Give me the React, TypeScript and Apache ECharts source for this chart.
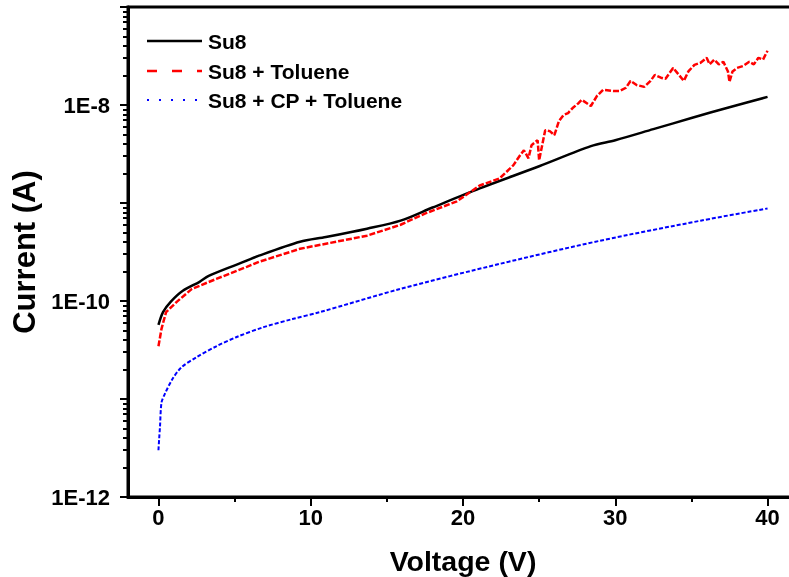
import { useEffect, useRef } from 'react';
import * as echarts from 'echarts';

const FONT = "'Liberation Sans', Arial, sans-serif";

// Su8 (black, solid)
const su8V = [0, 0.3, 0.8, 1.6, 2.7, 3.3, 5.1, 6.6, 9.3, 11, 13.7, 15.9, 18, 21.1, 25, 28.4, 30, 32.5, 35, 37.5, 40];
const su8I = [5.7e-11, 7.7e-11, 9.8e-11, 1.27e-10, 1.57e-10, 1.8e-10, 2.34e-10, 2.9e-10, 4.03e-10, 4.5e-10, 5.47e-10, 6.6e-10, 9.0e-10, 1.41e-9, 2.37e-9, 3.8e-9, 4.37e-9, 5.67e-9, 7.36e-9, 9.5e-9, 1.21e-8];

// Su8 + Toluene (red, dashed)
const tolV = [0, 0.2, 0.5, 1.2, 2.2, 3.8, 5.8, 6.6, 9.3, 13.7, 15.9, 17.5, 19.6, 21.1, 22.4, 23.3, 23.75, 24.0, 24.3, 24.5, 24.9, 25.0, 25.2, 25.4, 25.7, 26.0, 26.3, 26.6, 26.9, 27.2, 27.6, 27.8, 28.4, 28.8, 29.2, 29.9, 30.3, 30.7, 31.0, 31.4, 31.9, 32.3, 32.6, 33.0, 33.3, 33.8, 34.1, 34.5, 34.8, 35.2, 35.6, 36.0, 36.2, 36.5, 36.8, 37.1, 37.4, 37.5, 37.7, 38.0, 38.4, 38.8, 39.1, 39.4, 39.7, 40.0];
const tolI = [3.45e-11, 5.2e-11, 7.7e-11, 9.8e-11, 1.33e-10, 1.68e-10, 2.23e-10, 2.51e-10, 3.41e-10, 4.64e-10, 6.0e-10, 7.8e-10, 1.04e-9, 1.51e-9, 1.78e-9, 2.42e-9, 3.07e-9, 3.45e-9, 2.86e-9, 3.89e-9, 4.37e-9, 2.73e-9, 3.89e-9, 5.54e-9, 5.41e-9, 4.92e-9, 6.85e-9, 7.89e-9, 8.28e-9, 9.31e-9, 1.05e-8, 1.13e-8, 9.77e-9, 1.24e-8, 1.43e-8, 1.39e-8, 1.39e-8, 1.5e-8, 1.76e-8, 1.6e-8, 1.53e-8, 1.75e-8, 2.03e-8, 1.9e-8, 1.85e-8, 2.39e-8, 2.1e-8, 1.76e-8, 2.2e-8, 2.57e-8, 2.7e-8, 3.03e-8, 2.6e-8, 2.9e-8, 2.6e-8, 2.76e-8, 2.2e-8, 1.72e-8, 2.2e-8, 2.39e-8, 2.5e-8, 2.76e-8, 2.6e-8, 3.03e-8, 2.9e-8, 3.58e-8];

// Su8 + CP + Toluene (blue, dotted)
const cpV = [0, 0.05, 0.1, 0.2, 0.4, 0.9, 1.5, 2.5, 3.8, 5.1, 6.9, 8.8, 10.6, 15.9, 22.4, 29.0, 35.6, 40];
const cpI = [3.0e-12, 4.0e-12, 5.2e-12, 9.2e-12, 1.11e-11, 1.58e-11, 2.1e-11, 2.67e-11, 3.45e-11, 4.27e-11, 5.41e-11, 6.54e-11, 7.7e-11, 1.33e-10, 2.39e-10, 4.12e-10, 6.6e-10, 8.8e-10];

const seriesNames = ['Su8', 'Su8 + Toluene', 'Su8 + CP + Toluene'];
const xMajorTicks = [0, 10, 20, 30, 40];
const xMinorTicks = [5, 15, 25, 35];
const yLabelExponents = [-12, -10, -8];

const zip = (xs: number[], ys: number[]) => xs.map((x, i) => [x, ys[i]]);

const yMinorTicks: number[] = [];
for (let e = -12; e <= -8; e++) {
  for (let m = 2; m <= 9; m++) yMinorTicks.push(m * Math.pow(10, e));
}

export default function App() {
  const ref = useRef<HTMLDivElement>(null);
  useEffect(() => {
    if (!ref.current) return;
    const chart = echarts.init(ref.current, null, { renderer: 'svg' });
    const legendY = [41, 71, 100];
    const legendLines = [
      { color: '#000000', dash: null as any, width: 2.5 },
      { color: '#ff0000', dash: [10, 15], width: 2.5 },
      { color: '#0000ff', dash: [2, 10], width: 2 },
    ];
    const graphic: any[] = [];
    seriesNames.forEach((name, i) => {
      graphic.push({
        type: 'line',
        shape: { x1: 147, y1: legendY[i], x2: 202, y2: legendY[i] },
        style: { stroke: legendLines[i].color, lineWidth: legendLines[i].width, lineDash: legendLines[i].dash },
      });
      graphic.push({
        type: 'text',
        x: 208,
        y: legendY[i],
        style: { text: name, fill: '#000', font: `bold 21px ${FONT}`, textVerticalAlign: 'middle', verticalAlign: 'middle' },
      });
    });

    const axisLabelStyle = { fontSize: 22, fontWeight: 'bold', color: '#000', fontFamily: FONT };

    chart.setOption({
      animation: false,
      grid: {
        left: 128, right: -9, top: 7, bottom: 80, show: true, borderColor: '#000', borderWidth: 3,
        containLabel: false, outerBoundsMode: 'none',
      },
      xAxis: [
        {
          type: 'value', min: -2, max: 42, position: 'bottom',
          axisLine: { show: true, onZero: false, lineStyle: { color: '#000', width: 3 } },
          splitLine: { show: false },
          axisTick: { show: true, customValues: xMajorTicks, length: 9, lineStyle: { width: 2, color: '#000' } },
          axisLabel: { customValues: xMajorTicks, margin: 9, ...axisLabelStyle },
          name: 'Voltage (V)', nameLocation: 'middle', nameGap: 49,
          nameTextStyle: { fontSize: 28.5, fontWeight: 'bold', color: '#000', fontFamily: FONT },
        },
        {
          type: 'value', min: -2, max: 42, position: 'bottom',
          axisLine: { show: false, onZero: false }, splitLine: { show: false },
          axisTick: { show: true, customValues: xMinorTicks, length: 5, lineStyle: { width: 2, color: '#000' } },
          axisLabel: { show: false },
        },
      ],
      yAxis: [
        {
          type: 'log', logBase: 10, min: 1e-12, max: 1e-7, position: 'left',
          axisLine: { show: true, onZero: false, lineStyle: { color: '#000', width: 3 } },
          splitLine: { show: false },
          axisTick: { show: true, length: 8, lineStyle: { width: 2, color: '#000' } },
          axisLabel: {
            margin: 18, ...axisLabelStyle,
            formatter: (v: number) => {
              const e = Math.round(Math.log10(v));
              return yLabelExponents.includes(e) ? `1E${e}` : '';
            },
          },
          name: 'Current (A)', nameLocation: 'middle', nameGap: 87,
          nameTextStyle: { fontSize: 31, fontWeight: 'bold', color: '#000', fontFamily: FONT },
        },
        {
          type: 'log', logBase: 10, min: 1e-12, max: 1e-7, position: 'left',
          axisLine: { show: false, onZero: false }, splitLine: { show: false },
          axisTick: { show: true, customValues: yMinorTicks, length: 5, lineStyle: { width: 2, color: '#000' } },
          axisLabel: { show: false },
        },
      ],
      series: [
        {
          name: seriesNames[0], type: 'line', data: zip(su8V, su8I), showSymbol: false, symbol: 'none', smooth: 0.3,
          lineStyle: { color: '#000000', width: 2.5 }, z: 3,
        },
        {
          name: seriesNames[1], type: 'line', data: zip(tolV, tolI), showSymbol: false, symbol: 'none',
          lineStyle: { color: '#ff0000', width: 2.5, type: [6, 2] }, z: 4,
        },
        {
          name: seriesNames[2], type: 'line', data: zip(cpV, cpI), showSymbol: false, symbol: 'none', smooth: 0.3,
          lineStyle: { color: '#0000ff', width: 2, type: [4, 2] }, z: 2,
        },
      ],
      graphic,
    });
    return () => chart.dispose();
  }, []);
  return <div ref={ref} style={{ position: 'fixed', left: 0, top: 0, width: 789, height: 577 }} />;
}
